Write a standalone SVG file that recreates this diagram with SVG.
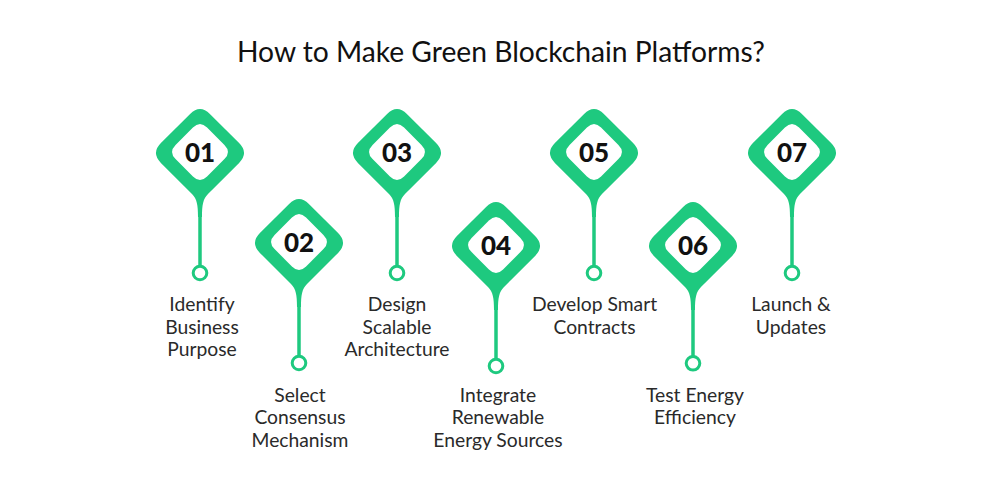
<svg xmlns="http://www.w3.org/2000/svg" xmlns:xlink="http://www.w3.org/1999/xlink" width="1000" height="500" viewBox="0 0 1000 500">
<style>
.title{font-family:"Lato","Liberation Sans",sans-serif;font-size:28px;font-weight:400;fill:#111;text-anchor:middle}
.num{font-family:"Lato","Liberation Sans",sans-serif;font-size:26px;font-weight:900;fill:#111;text-anchor:middle}
.lbl{font-family:"Lato","Liberation Sans",sans-serif;font-size:19.3px;font-weight:400;fill:#2a2a2a;text-anchor:middle}
.stem{stroke:#1ec97f;stroke-width:3.5;fill:none}
.dot{stroke:#1ec97f;stroke-width:3;fill:#fff}
</style>
<defs>
<g id="pin">
<path fill="#1ec97f" d="M-9.9,-39.1 Q0,-49 9.9,-39.1 L39.1,-9.9 Q49,0 39.1,9.9 L8,41 C3,46 2,52 2,64 L-2,64 C-2,52 -3,46 -8,41 L-39.1,9.9 Q-49,0 -39.1,-9.9 Z"/>
<path fill="#fff" d="M-7.07,-25.43 Q0,-32.5 7.07,-25.43 L24.43,-8.07 Q31.5,-1 24.43,6.07 L7.07,23.43 Q0,30.5 -7.07,23.43 L-24.43,6.07 Q-31.5,-1 -24.43,-8.07 Z"/>
</g>
</defs>
<rect width="1000" height="500" fill="#fff"/>
<text class="title" x="501" y="62" textLength="528" lengthAdjust="spacingAndGlyphs">How to Make Green Blockchain Platforms?</text>
<g id="connectors">
<line class="stem" x1="200" y1="213" x2="200" y2="266.2"/><circle class="dot" cx="200" cy="273" r="6.8"/>
<line class="stem" x1="299" y1="303" x2="299" y2="356.2"/><circle class="dot" cx="299" cy="363" r="6.8"/>
<line class="stem" x1="397" y1="213" x2="397" y2="266.2"/><circle class="dot" cx="397" cy="273" r="6.8"/>
<line class="stem" x1="496" y1="306" x2="496" y2="359.2"/><circle class="dot" cx="496" cy="366" r="6.8"/>
<line class="stem" x1="594" y1="213" x2="594" y2="266.2"/><circle class="dot" cx="594" cy="273" r="6.8"/>
<line class="stem" x1="693" y1="306" x2="693" y2="356.5"/><circle class="dot" cx="693" cy="363.3" r="6.8"/>
<line class="stem" x1="792" y1="213" x2="792" y2="266.2"/><circle class="dot" cx="792" cy="273" r="6.8"/>
</g>
<g id="node1"><use href="#pin" xlink:href="#pin" transform="translate(200,153)"/><text class="num" x="200" y="162">01</text>
<text class="lbl" x="202" y="311">Identify</text><text class="lbl" x="202" y="333.5">Business</text><text class="lbl" x="202" y="356">Purpose</text></g>
<g id="node2"><use href="#pin" xlink:href="#pin" transform="translate(299,243)"/><text class="num" x="299" y="252">02</text>
<text class="lbl" x="300" y="401.7">Select</text><text class="lbl" x="300" y="424.3">Consensus</text><text class="lbl" x="300" y="447">Mechanism</text></g>
<g id="node3"><use href="#pin" xlink:href="#pin" transform="translate(397,153)"/><text class="num" x="397" y="162">03</text>
<text class="lbl" x="397" y="311">Design</text><text class="lbl" x="397" y="333.5">Scalable</text><text class="lbl" x="397" y="356">Architecture</text></g>
<g id="node4"><use href="#pin" xlink:href="#pin" transform="translate(496,246)"/><text class="num" x="496" y="255">04</text>
<text class="lbl" x="498" y="401.7">Integrate</text><text class="lbl" x="498" y="424.3">Renewable</text><text class="lbl" x="498" y="447">Energy Sources</text></g>
<g id="node5"><use href="#pin" xlink:href="#pin" transform="translate(594,153)"/><text class="num" x="594" y="162">05</text>
<text class="lbl" x="594.5" y="311">Develop Smart</text><text class="lbl" x="594.5" y="333.5">Contracts</text></g>
<g id="node6"><use href="#pin" xlink:href="#pin" transform="translate(693,246)"/><text class="num" x="693" y="255">06</text>
<text class="lbl" x="695" y="401.7">Test Energy</text><text class="lbl" x="695" y="424.3">Efficiency</text></g>
<g id="node7"><use href="#pin" xlink:href="#pin" transform="translate(792,153)"/><text class="num" x="792" y="162">07</text>
<text class="lbl" x="791" y="311">Launch &amp;</text><text class="lbl" x="791" y="333.5">Updates</text></g>
</svg>
